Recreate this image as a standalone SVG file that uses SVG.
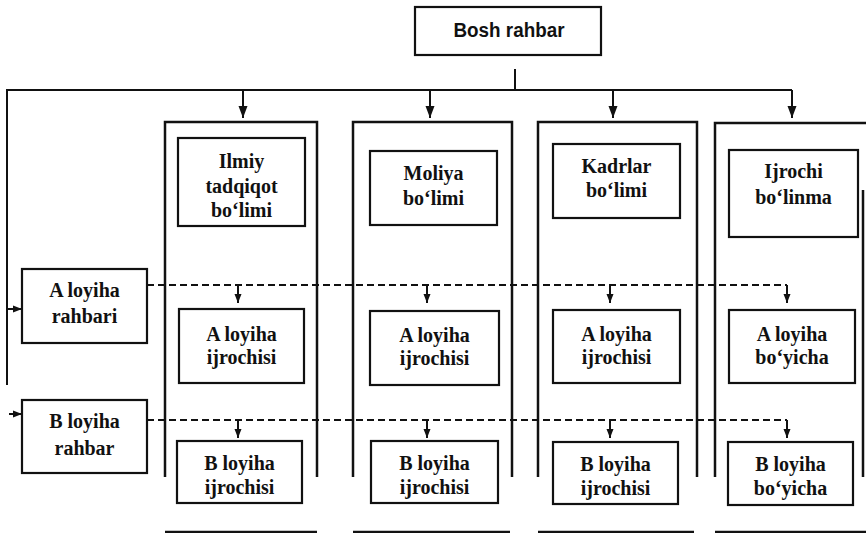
<svg xmlns="http://www.w3.org/2000/svg" width="866" height="533" viewBox="0 0 866 533">
  <defs>
    <style>
      .box{fill:#fff;stroke:#111;stroke-width:2.2}
      .frame{fill:none;stroke:#111;stroke-width:2.5}
      .ln{fill:none;stroke:#111;stroke-width:2}
      .dash{fill:none;stroke:#111;stroke-width:2;stroke-dasharray:7 4}
      .t{font-family:"Liberation Serif","Times New Roman",serif;font-weight:bold;font-size:20px;text-anchor:middle;fill:#111}
      .h{font-family:"Liberation Sans",Arial,sans-serif;font-weight:bold;font-size:20px;text-anchor:middle;fill:#111}
    </style>
    <marker id="big" markerUnits="userSpaceOnUse" markerWidth="12" markerHeight="12" viewBox="0 0 12 12" refX="12" refY="6" orient="auto">
      <path d="M0,1.5 L12,6 L0,10.5 Z" fill="#111"/>
    </marker>
    <marker id="small" markerUnits="userSpaceOnUse" markerWidth="9" markerHeight="9" viewBox="0 0 9 9" refX="9" refY="4.5" orient="auto">
      <path d="M0,1 L9,4.5 L0,8 Z" fill="#111"/>
    </marker>
  </defs>
  <rect width="866" height="533" fill="#fff"/>

  <!-- department frames: top bar and two sides, with a loose base line -->
  <g id="frames">
    <path class="frame" d="M165,477 V122 H317 V477"/>
    <path class="frame" d="M353,477 V122 H512 V477"/>
    <path class="frame" d="M538,477 V122 H697 V477"/>
    <path class="frame" d="M715,477 V123 H866"/>
    <path class="frame" d="M863,190 V477"/>
    <path class="frame" d="M165,532 H317 M353,532 H510 M538,532 H694 M715,532 H866"/>
  </g>

  <g id="connectors">
    <!-- head to departments -->
    <path class="ln" d="M515,69 V90"/>
    <path class="ln" d="M7,385 V90 H792"/>
    <path class="ln" marker-end="url(#big)" d="M243,90 V118"/>
    <path class="ln" marker-end="url(#big)" d="M430,90 V118"/>
    <path class="ln" marker-end="url(#big)" d="M613,90 V118"/>
    <path class="ln" marker-end="url(#big)" d="M792,90 V118"/>
    <!-- into project leaders -->
    <path class="ln" marker-end="url(#small)" d="M7,309 H22"/>
    <path class="ln" marker-end="url(#small)" d="M9,414 H22"/>
    <!-- project A -->
    <path class="dash" d="M147,285 H787"/>
    <path class="ln" marker-end="url(#small)" d="M238,285 V303"/>
    <path class="ln" marker-end="url(#small)" d="M427,285 V303"/>
    <path class="ln" marker-end="url(#small)" d="M610,285 V303"/>
    <path class="ln" marker-end="url(#small)" d="M787,285 V303"/>
    <!-- project B -->
    <path class="dash" d="M147,420 H787"/>
    <path class="ln" marker-end="url(#small)" d="M238,420 V438"/>
    <path class="ln" marker-end="url(#small)" d="M427,420 V438"/>
    <path class="ln" marker-end="url(#small)" d="M610,420 V438"/>
    <path class="ln" marker-end="url(#small)" d="M787,420 V438"/>
  </g>

  <g id="bosh-rahbar">
    <rect class="box" x="415" y="7" width="186" height="48"/>
    <text class="h" x="509" y="37" textLength="111" lengthAdjust="spacingAndGlyphs">Bosh rahbar</text>
  </g>

  <g id="ilmiy">
    <rect class="box" x="178" y="138" width="127" height="88"/>
    <text class="t" x="241.5" y="168">Ilmiy</text>
    <text class="t" x="241.5" y="193">tadqiqot</text>
    <text class="t" x="241.5" y="217">bo‘limi</text>
  </g>
  <g id="moliya">
    <rect class="box" x="370" y="151" width="127" height="74"/>
    <text class="t" x="433.5" y="180">Moliya</text>
    <text class="t" x="433.5" y="205">bo‘limi</text>
  </g>
  <g id="kadrlar">
    <rect class="box" x="553" y="144" width="127" height="74"/>
    <text class="t" x="616.5" y="173">Kadrlar</text>
    <text class="t" x="616.5" y="197">bo‘limi</text>
  </g>
  <g id="ijrochi">
    <rect class="box" x="729" y="150" width="129" height="87"/>
    <text class="t" x="793.5" y="178">Ijrochi</text>
    <text class="t" x="793.5" y="204">bo‘linma</text>
  </g>

  <g id="a-rahbari">
    <rect class="box" x="22" y="269" width="125" height="74"/>
    <text class="t" x="84.5" y="297">A loyiha</text>
    <text class="t" x="84.5" y="323">rahbari</text>
  </g>
  <g id="b-rahbar">
    <rect class="box" x="22" y="400" width="125" height="73"/>
    <text class="t" x="84.5" y="428">B loyiha</text>
    <text class="t" x="84.5" y="455">rahbar</text>
  </g>

  <g id="a-ilmiy">
    <rect class="box" x="179" y="309" width="125" height="74"/>
    <text class="t" x="241.5" y="341">A loyiha</text>
    <text class="t" x="241.5" y="364">ijrochisi</text>
  </g>
  <g id="a-moliya">
    <rect class="box" x="370" y="311" width="129" height="74"/>
    <text class="t" x="434.5" y="342">A loyiha</text>
    <text class="t" x="434.5" y="365">ijrochisi</text>
  </g>
  <g id="a-kadrlar">
    <rect class="box" x="553" y="310" width="127" height="73"/>
    <text class="t" x="616.5" y="341">A loyiha</text>
    <text class="t" x="616.5" y="364">ijrochisi</text>
  </g>
  <g id="a-ijrochi">
    <rect class="box" x="729" y="310" width="126" height="73"/>
    <text class="t" x="792" y="341">A loyiha</text>
    <text class="t" x="792" y="364">bo‘yicha</text>
  </g>

  <g id="b-ilmiy">
    <rect class="box" x="177" y="441" width="125" height="62"/>
    <text class="t" x="239.5" y="470">B loyiha</text>
    <text class="t" x="239.5" y="494">ijrochisi</text>
  </g>
  <g id="b-moliya">
    <rect class="box" x="371" y="441" width="127" height="62"/>
    <text class="t" x="434.5" y="470">B loyiha</text>
    <text class="t" x="434.5" y="494">ijrochisi</text>
  </g>
  <g id="b-kadrlar">
    <rect class="box" x="553" y="442" width="125" height="62"/>
    <text class="t" x="615.5" y="471">B loyiha</text>
    <text class="t" x="615.5" y="495">ijrochisi</text>
  </g>
  <g id="b-ijrochi">
    <rect class="box" x="728" y="442" width="125" height="63"/>
    <text class="t" x="790.5" y="471">B loyiha</text>
    <text class="t" x="790.5" y="495">bo‘yicha</text>
  </g>
</svg>
